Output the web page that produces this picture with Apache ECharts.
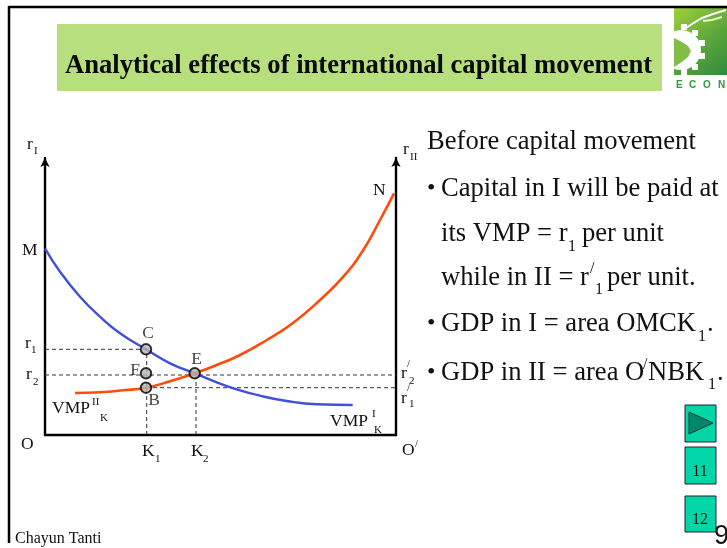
<!DOCTYPE html>
<html><head><meta charset="utf-8">
<style>html,body{margin:0;padding:0;background:#fff}#c{width:727px;height:548px}</style>
<script src="https://cdn.jsdelivr.net/npm/echarts@6/dist/echarts.min.js"></script>
</head><body><div id="c"></div>
<script>
// Data, in horizontal capital units and return units
const vmpOne = [[0,186.7],[15,163.3],[35,138.3],[55,118.3],[75,101.7],[101,85.7],[125,71.7],[149.7,61.7],[171.7,52.7],[191.7,45.7],[215,39.3],[241.7,34],[271.7,30.7],[307.7,30]];
const vmpTwo = [[30,42],[55,42.7],[78.3,44.7],[101,47.3],[125,53.7],[149.7,61.7],[171.7,70],[195,80],[221.7,95],[248.3,112.3],[275,135],[298.3,158.3],[318.3,185],[335,215],[349,241.7]];
const r1Guide = [[0,85.7],[101,85.7]];
const r2Guide = [[0,60],[351,60]];
const r1PrimeGuide = [[101,47.3],[351,47.3]];
const k1Guide = [[101.7,0],[101.7,85.7]];
const k2Guide = [[151,0],[151,61.7]];
const keyPoints = [
  {name:'C', value:[101,85.7], off:[2,-16]},
  {name:'F', value:[101,61.7], off:[-11,-3]},
  {name:'B', value:[101,47.3], off:[8,13]},
  {name:'E', value:[149.7,61.7], off:[2,-14]}
];
const SERIF = '"Liberation Serif","Times New Roman",serif';
const T = (x,y,text,size,extra) => ({type:'text',x,y:y+1.5,z:20,silent:true,
  style:Object.assign({text,font:(size)+'px '+SERIF,fill:'#111',textAlign:'left',textVerticalAlign:'middle'},extra||{})});

const BODY = 26.6, LAB = 17.5, SUB = 11;
const graphicText = [
  // diagram labels
  T(27,143,'r',LAB),T(34,150,'I',SUB),
  T(403,148,'r',LAB),T(410,156,'II',SUB),
  T(22,249,'M',LAB),T(373,189,'N',LAB),
  T(25,342,'r',LAB),T(31,349,'1',SUB),
  T(26,373,'r',LAB),T(33,381,'2',SUB),
  T(52,407,'VMP',LAB),T(92,401,'II',SUB),T(100,417,'K',SUB),
  T(330,420,'VMP',LAB),T(372,413,'I',SUB),T(374,429,'K',SUB),
  T(21,443,'O',LAB),T(402,449,'O',LAB),T(415,443,'/',SUB),
  T(142,450,'K',LAB),T(155,458,'1',SUB),
  T(191,450,'K',LAB),T(203,458,'2',SUB),
  T(401,372,'r',LAB),T(407,363,'/',SUB),T(409,380,'2',SUB),
  T(401,397,'r',LAB),T(407,387,'/',SUB),T(409,403,'1',SUB),
  // text column
  T(427,141,'Before capital movement',BODY),
  T(427,187,'•',24),T(441,188,'Capital in I will be paid at',BODY),
  T(441,233,'its VMP = r',BODY),T(568,245,'1',16),T(582,233,'per unit',BODY),
  T(441,277,'while in II = r',BODY),T(590,267,'/',16),T(595,288,'1',16),T(607,277,'per unit.',BODY),
  T(427,322,'•',24),T(441,323,'GDP in I = area OMCK',BODY),T(698,335,'1',16),T(707,323,'.',BODY),
  T(427,371,'•',24),T(441,372,'GDP in II = area O',BODY),T(643,363,'/',16),T(648,372,'NBK',BODY),T(708,383,'1',16),T(717,372,'.',BODY),
  // footer
  T(15,537,'Chayun Tanti',16),
  T(700,470,'11',16,{textAlign:'center'}),
  T(700,518,'12',16,{textAlign:'center'}),
  T(714,535,'9',27,{font:'27px "Liberation Sans",Arial,sans-serif'})
];
const R = (x,y,w,h,fill,stroke,lw,z) => ({type:'rect',z:z||1,silent:true,shape:{x,y,width:w,height:h},style:{fill,stroke:stroke||null,lineWidth:lw||0}});
const gearTeeth = [[684,27],[695,33],[702,43],[702,56],[695,67],[684,72]].map(p=>(
  {type:'rect',z:4,silent:true,shape:{x:p[0]-3,y:p[1]-3,width:6,height:6},style:{fill:'#fff'}}));
const econLetters = [['E',676],['C',689],['O',703],['N',718]].map(l=>(
  {type:'text',z:20,silent:true,x:l[1],y:85.5,style:{text:l[0],font:'bold 10px "Liberation Sans",sans-serif',fill:'#2f9a3c',textAlign:'left',textVerticalAlign:'middle'}}));
const decoration = [
  {type:'line',z:5,silent:true,shape:{x1:9,y1:7,x2:727,y2:7},style:{stroke:'#000',lineWidth:2.5}},
  {type:'line',z:5,silent:true,shape:{x1:9,y1:6,x2:9,y2:543},style:{stroke:'#000',lineWidth:2.5}},
  {type:'rect',z:2,silent:true,shape:{x:674,y:8,width:53,height:67},style:{fill:new echarts.graphic.LinearGradient(0,0,1,1,[{offset:0,color:'#a0d03a'},{offset:0.55,color:'#5ba63c'},{offset:1,color:'#2f8a3c'}])}},
  ...gearTeeth,
  {type:'circle',z:4,silent:true,shape:{cx:681,cy:50,r:20},style:{fill:'#fff'}},
  {type:'rect',z:5,silent:true,shape:{x:660,y:26,width:14,height:50},style:{fill:'#fff'}},
  R(57,24,605,67,'#b8df7d','',0,7),
  {type:'text',z:20,silent:true,x:65,y:66,style:{text:'Analytical effects of international capital movement',font:'bold 26.6px '+SERIF,fill:'#0a0a0a',textAlign:'left',textVerticalAlign:'middle'}},
  {type:'polygon',z:6,silent:true,shape:{points:[[674,38],[682,42],[688,46],[691,51],[688,57],[682,62],[674,67]]},style:{fill:'#82bd45'}},
  {type:'polyline',z:5,silent:true,shape:{points:[[686,28],[692,24],[702,18],[713,14],[726,10]]},style:{stroke:'#fff',lineWidth:2,fill:null}},
  {type:'polyline',z:5,silent:true,shape:{points:[[703,21],[712,20],[722,17]]},style:{stroke:'#e8f4d0',lineWidth:2,fill:null}},
  ...econLetters,
  R(685,405,31,37,'#00d6a8','#222',1),
  {type:'polygon',z:4,silent:true,shape:{points:[[689,412],[713,423],[689,434]]},style:{fill:'#00866a',stroke:'#0a3a30',lineWidth:1}},
  R(685,447,31,37,'#00d6a8','#222',1),
  R(685,496,31,36,'#00d6a8','#222',1)
];
const guide = (data,name) => ({type:'line',name,data,symbol:'none',silent:true,z:2,
  lineStyle:{color:'#333',width:1,type:[4,3]}});
const axisBase = {min:0,splitLine:{show:false},axisTick:{show:false},axisLabel:{show:false}};
const chart = echarts.init(document.getElementById('c'),null,{renderer:'canvas'});
chart.setOption({
  animation:false,
  backgroundColor:'#fff',
  grid:{left:45,top:158,width:351,height:277},
  xAxis:Object.assign({type:'value',max:351},axisBase,{axisLine:{onZero:false,lineStyle:{color:'#000',width:2.4}}}),
  yAxis:[
    Object.assign({type:'value',max:277,position:'left'},axisBase,{axisLine:{show:true,onZero:false,symbol:['none','arrow'],symbolSize:[7,9],lineStyle:{color:'#000',width:2.4}}}),
    Object.assign({type:'value',max:277,position:'right'},axisBase,{axisLine:{show:true,onZero:false,symbol:['none','arrow'],symbolSize:[7,9],lineStyle:{color:'#000',width:2.4}}})
  ],
  series:[
    guide(r1Guide,'r1'),guide(r2Guide,'r2'),guide(r1PrimeGuide,"r'1"),guide(k1Guide,'K1'),guide(k2Guide,'K2'),
    {type:'line',name:'VMP I K',data:vmpOne,smooth:0.5,symbol:'none',z:3,lineStyle:{color:'#4150d8',width:2.4}},
    {type:'line',name:'VMP II K',data:vmpTwo,smooth:0.5,symbol:'none',z:4,lineStyle:{color:'#ff4c0a',width:2.6}},
    {type:'scatter',name:'Points',z:5,symbolSize:10.5,
      itemStyle:{color:'#b4b4b4',borderColor:'#000',borderWidth:2},
      data:keyPoints.map(p=>({name:p.name,value:p.value,label:{show:true,position:'inside',offset:p.off,formatter:'{b}',fontFamily:SERIF,fontSize:17.5,color:'#111'}}))}
  ],
  graphic:[...decoration,...graphicText]
});
</script></body></html>
